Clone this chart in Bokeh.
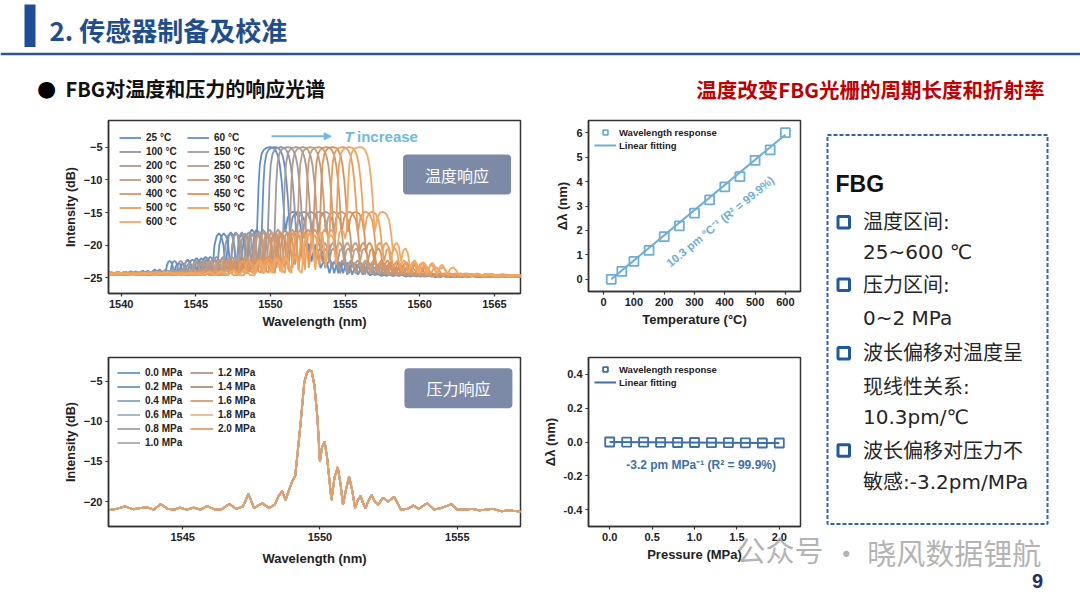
from bokeh.plotting import figure
from bokeh.models import (Range1d, FixedTicker, Legend, LegendItem, Label,
                          BoxAnnotation, Span, Arrow, NormalHead, NumeralTickFormatter)
from bokeh.layouts import row, column
from bokeh.embed import file_html
from bokeh.resources import INLINE

FONT = "Liberation Sans"
CJK = "Noto Sans CJK SC"
BOX_FONT = "DejaVu Sans, Noto Sans CJK SC"
WM_FONT = "Liberation Sans, Noto Sans CJK SC"

# ---------------- data ----------------
temps = [25, 60, 100, 150, 200, 250, 300, 350, 400, 450, 500, 550, 600]
d_temp = [0.00, 0.32, 0.73, 1.18, 1.75, 2.19, 2.71, 3.25, 3.78, 4.20, 4.87, 5.30, 6.00]
fit_t_x = [25, 600]
fit_t_y = [0.00, 5.92]
t_colors = ["#5b8fd0", "#6b8fc0", "#8f96a8", "#a19b9c", "#ac9a90", "#b69a88",
            "#c29c82", "#cb9a76", "#d4956a", "#dc9257", "#e89d5c", "#eea25f", "#f4a862"]

pressures = [0.0, 0.2, 0.4, 0.6, 0.8, 1.0, 1.2, 1.4, 1.6, 1.8, 2.0]
d_press = [0.000, -0.001, -0.001, -0.002, -0.003, -0.003, -0.004, -0.004, -0.005, -0.006, -0.006]
fit_p_x = [0.0, 2.0]
fit_p_y = [0.000, -0.0064]
p_colors = ["#5b9bd5", "#6198cc", "#80a6cf", "#9db2cb", "#a3a3a3", "#b2aaaa",
            "#b49686", "#bb8e70", "#d39e74", "#e9b892", "#dfa06c"]

# FBG reflection spectrum read at 25 degC (offset from peak centre, nm / dB)
t_center = 1550.05
t_off = [-17.0, -16.2, -15.4, -14.6, -13.8, -13.0, -12.2, -11.4, -10.6, -10.2, -9.8, -9.4,
         -9.0, -8.6, -8.2, -7.8, -7.4, -7.1, -7.0, -6.9, -6.8, -6.7, -6.6, -6.5,
         -6.4, -6.3, -6.2, -6.1, -6.0, -5.9, -5.8, -5.7, -5.6, -5.5, -5.4, -5.3,
         -5.2, -5.1, -5.0, -4.9, -4.8, -4.7, -4.6, -4.5, -4.4, -4.3, -4.2, -4.1,
         -3.95, -3.8, -3.65, -3.5, -3.35, -3.2, -3.05, -2.95, -2.85, -2.7, -2.55, -2.45,
         -2.35, -2.25, -2.15, -2.0, -1.85, -1.75, -1.65, -1.55, -1.45, -1.3, -1.15, -1.05,
         -0.95, -0.9, -0.84, -0.76, -0.64, -0.5, -0.33, -0.15, 0.0, 0.15, 0.3, 0.45,
         0.58, 0.7, 0.8, 0.88, 0.93, 0.98, 1.1, 1.3, 1.5, 1.7, 1.9, 2.05,
         2.15, 2.25, 2.4, 2.55, 2.7, 2.85, 3.0, 3.15, 3.3, 3.45, 3.6, 3.75,
         3.9, 4.05, 4.2, 4.35, 4.5, 4.65, 4.8, 4.95, 5.1, 5.3, 5.45, 5.6,
         5.8, 6.0, 6.2, 6.4, 6.6, 7.0, 7.4, 7.8, 8.2, 8.6, 9.0, 9.5,
         10.0, 10.5, 11.0, 11.5, 12.0, 13.0, 14.0, 15.0, 16.0, 17.0]
t_db = [-24.5, -24.2, -24.6, -24.2, -24.6, -24.1, -24.6, -24.2, -24.6, -24.1, -24.6, -24.0,
        -24.6, -23.9, -24.6, -23.7, -24.6, -24.6, -23.2, -22.6, -22.4, -22.6, -23.2, -24.4,
        -23.3, -22.9, -22.8, -22.9, -23.5, -24.3, -23.0, -22.4, -22.2, -22.4, -23.0, -24.2,
        -22.9, -22.2, -22.0, -22.2, -22.9, -24.0, -22.7, -22.0, -21.8, -22.0, -22.8, -24.0,
        -24.2, -20.0, -18.6, -18.2, -18.6, -20.0, -23.8, -21.0, -18.6, -18.0, -18.6, -21.0,
        -23.5, -21.0, -18.9, -18.4, -18.9, -21.0, -23.0, -20.5, -18.2, -17.6, -18.0, -19.0,
        -17.8, -14.5, -10.5, -7.6, -6.0, -5.4, -5.1, -5.0, -5.0, -5.1, -5.5, -6.3,
        -7.8, -10.2, -13.0, -16.0, -18.0, -17.5, -15.8, -15.0, -14.9, -15.2, -16.2, -18.5,
        -21.0, -20.0, -19.6, -20.2, -22.5, -20.8, -20.5, -21.2, -23.5, -22.8, -22.3, -22.8,
        -24.3, -23.0, -22.6, -23.0, -24.3, -23.0, -22.7, -23.2, -24.5, -23.3, -23.0, -23.5,
        -24.5, -23.6, -23.4, -23.9, -24.6, -24.3, -24.7, -24.3, -24.7, -24.4, -24.8, -24.4,
        -24.8, -24.5, -24.9, -24.5, -24.9, -24.6, -24.9, -24.6, -24.9, -24.6]

# FBG spectrum read at 0 MPa (nm / dB)
p_wl = [1542.3, 1542.6, 1542.9, 1543.2, 1543.45, 1543.7, 1543.95, 1544.2, 1544.45, 1544.7,
        1544.9, 1545.15, 1545.4, 1545.65, 1545.9, 1546.15, 1546.4, 1546.7, 1546.95, 1547.2,
        1547.4, 1547.6, 1547.9, 1548.15, 1548.35, 1548.5, 1548.62, 1548.75, 1548.88, 1549.0,
        1549.1, 1549.2, 1549.3, 1549.43, 1549.52, 1549.62, 1549.7, 1549.8, 1549.91, 1550.0,
        1550.08, 1550.17, 1550.26, 1550.42, 1550.53, 1550.65, 1550.75, 1550.84, 1550.95, 1551.06,
        1551.17, 1551.28, 1551.38, 1551.48, 1551.56, 1551.66, 1551.78, 1551.88, 1552.0, 1552.12,
        1552.3, 1552.48, 1552.7, 1552.95, 1553.2, 1553.4, 1553.6, 1553.9, 1554.15, 1554.4,
        1554.8, 1555.0, 1555.3, 1555.55, 1555.8, 1556.05, 1556.3, 1556.6, 1556.9, 1557.3]
p_db = [-21.05, -20.9, -20.6, -20.95, -20.8, -20.7, -21.0, -20.3, -20.9, -21.0,
        -20.75, -21.0, -20.75, -21.0, -20.55, -20.95, -21.0, -20.3, -20.9, -20.6,
        -19.05, -20.8, -20.2, -20.8, -20.4, -19.3, -18.7, -19.8, -18.5, -17.4,
        -16.8, -13.5, -10.1, -5.2, -4.0, -3.6, -3.8, -5.5, -9.6, -15.0,
        -13.2, -12.5, -14.5, -19.8, -17.0, -15.7, -17.8, -20.4, -18.5, -16.9,
        -18.5, -20.8, -19.8, -19.3, -20.1, -20.8, -19.8, -19.2, -20.0, -20.4,
        -19.5, -20.0, -19.4, -21.0, -20.9, -20.5, -20.9, -20.2, -21.0, -20.8,
        -20.3, -21.0, -21.0, -20.9, -21.1, -21.0, -20.9, -21.2, -21.1, -21.25]

wl_ticks_t = [1540, 1545, 1550, 1555, 1560, 1565]
db_ticks_t = [-25, -20, -15, -10, -5]
wl_ticks_p = [1545, 1550, 1555]
db_ticks_p = [-20, -15, -10, -5]
temp_ticks = [0, 100, 200, 300, 400, 500, 600]
dl_ticks_t = [0, 1, 2, 3, 4, 5, 6]
press_ticks = [0.0, 0.5, 1.0, 1.5, 2.0]
dl_ticks_p = [-0.4, -0.2, 0.0, 0.2, 0.4]

box_lines = ["温度区间:", "25~600 ℃", "压力区间:", "0~2 MPa", "波长偏移对温度呈",
             "现线性关系:", "10.3pm/℃", "波长偏移对压力不", "敏感:-3.2pm/MPa"]


# ---------------- helpers ----------------
def Y(py):
    return 598 - py


def base_fig(w, h, xr, yr, lb, rb, tb, bb):
    p = figure(width=w, height=h, x_range=Range1d(*xr), y_range=Range1d(*yr),
               output_backend="svg", toolbar_location=None,
               min_border_left=lb, min_border_right=rb, min_border_top=tb, min_border_bottom=bb)
    p.grid.visible = False
    p.outline_line_color = "#333333"
    p.outline_line_width = 1.5
    p.background_fill_color = "white"
    p.border_fill_color = "white"
    for ax in [p.xaxis[0], p.yaxis[0]]:
        ax.axis_line_color = "#333333"
        ax.axis_line_width = 1.5
        ax.major_tick_line_color = "#333333"
        ax.major_tick_line_width = 1.2
        ax.major_tick_out = 3
        ax.major_tick_in = 0
        ax.minor_tick_line_color = None
        ax.major_label_text_font = FONT
        ax.major_label_text_font_style = "bold"
        ax.major_label_text_font_size = "11px"
        ax.major_label_text_color = "#222222"
        ax.axis_label_text_font = FONT
        ax.axis_label_text_font_style = "bold"
        ax.axis_label_text_font_size = "13px"
        ax.axis_label_text_color = "#222222"
        ax.major_label_standoff = 3
        ax.axis_label_standoff = 3
    return p


def make_legend(items, ncols, fs, gw, gh, spacing, margin, padding, standoff=5, lw=20):
    lg = Legend(items=items, location="top_left", ncols=ncols, orientation="vertical")
    lg.label_text_font = FONT
    lg.label_text_font_style = "bold"
    lg.label_text_font_size = fs
    lg.label_text_color = "#222222"
    lg.glyph_width = gw
    lg.glyph_height = gh
    lg.label_height = gh
    lg.label_width = lw
    lg.spacing = spacing
    lg.margin = margin
    lg.padding = padding
    lg.label_standoff = standoff
    lg.border_line_color = None
    lg.background_fill_alpha = 0
    return lg


def blank_fig(w, h, xr, yr):
    p = figure(width=w, height=h, x_range=Range1d(*xr), y_range=Range1d(*yr),
               output_backend="svg", toolbar_location=None, min_border=0,
               min_border_left=0, min_border_right=0, min_border_top=0, min_border_bottom=0,
               x_axis_type=None, y_axis_type=None)
    p.grid.visible = False
    p.outline_line_color = None
    p.background_fill_color = "white"
    p.border_fill_color = "white"
    return p


# ---------------- header ----------------
hd = blank_fig(1080, 108, (0, 1080), (Y(108), Y(0)))
hd.add_layout(BoxAnnotation(left=24, right=35, bottom=Y(46.5), top=Y(4), fill_color="#1f4e96",
                            fill_alpha=1, line_color=None))
hd.add_layout(Span(location=Y(53.5), dimension="width", line_color="#2b5797", line_width=2.5))
hd.add_layout(Label(x=49, y=Y(28.5), text="2. 传感器制备及校准", text_font=CJK,
                    text_font_style="bold", text_font_size="26px", text_color="#1f4e8f",
                    text_baseline="middle"))
hd.add_layout(Label(x=46, y=Y(88), text="●", text_font="DejaVu Sans", text_font_size="22px",
                    text_color="black", text_align="center", text_baseline="middle"))
hd.add_layout(Label(x=65, y=Y(88), text="FBG对温度和压力的响应光谱", text_font=CJK,
                    text_font_style="bold", text_font_size="20px", text_color="#111111",
                    text_baseline="middle"))
hd.add_layout(Label(x=1044, y=Y(88), text="温度改变FBG光栅的周期长度和折射率", text_font=CJK,
                    text_font_style="bold", text_font_size="20.5px", text_color="#c00000",
                    text_align="right", text_baseline="middle"))

# ---------------- top-left: temperature spectra ----------------
tl = base_fig(530, 227, (1539.15, 1566.75), (-27.4, -0.9), 108, 9, 12, 42)
tl.xaxis.ticker = FixedTicker(ticks=wl_ticks_t)
tl.yaxis.ticker = FixedTicker(ticks=db_ticks_t)
tl.xaxis.axis_label = "Wavelength (nm)"
tl.yaxis.axis_label = "Intensity (dB)"
tl.yaxis.axis_label_text_font_size = "12.5px"
t_rend = []
for T, d, c in zip(temps, d_temp, t_colors):
    xs = [t_center + d + o for o in t_off]
    t_rend.append(tl.line(xs, t_db, line_color=c, line_width=1.8))
order_t = [0, 2, 4, 6, 8, 10, 12, 1, 3, 5, 7, 9, 11]
items_t = [LegendItem(label=f"{temps[i]} °C", renderers=[t_rend[i]]) for i in order_t]
tl.add_layout(make_legend(items_t, 2, "10px", 22, 13, 1, 11, 6, 5, 40))
arrow_c = "#72b8e2"
tl.add_layout(Arrow(end=NormalHead(size=7, fill_color=arrow_c, line_color=arrow_c),
                    x_start=1550.07, y_start=-3.32, x_end=1554.07, y_end=-3.32,
                    line_color=arrow_c, line_width=2))
tl.add_layout(Label(x=1554.96, y=-3.32, text="T", text_font=FONT, text_font_style="bold italic",
                    text_font_size="15px", text_color=arrow_c, text_baseline="middle"))
tl.add_layout(Label(x=1555.8, y=-3.32, text="increase", text_font=FONT, text_font_style="bold",
                    text_font_size="15px", text_color=arrow_c, text_baseline="middle"))
tl.add_layout(Label(x=1562.5, y=-9.18, text="温度响应", text_font=CJK, text_font_size="16px",
                    text_color="white", text_align="center", text_baseline="middle",
                    background_fill_color="#7d8aa7", padding=dict(x=22, y=8), border_radius=4))

# ---------------- bottom-left: pressure spectra ----------------
bl = base_fig(530, 263, (1542.3, 1557.3), (-23.1, -2.05), 103, 10, 22, 72)
bl.xaxis.ticker = FixedTicker(ticks=wl_ticks_p)
bl.yaxis.ticker = FixedTicker(ticks=db_ticks_p)
bl.xaxis.axis_label = "Wavelength (nm)"
bl.yaxis.axis_label = "Intensity (dB)"
bl.yaxis.axis_label_text_font_size = "12.5px"
bl.xaxis.axis_label_standoff = 7
p_rend = []
for P, d, c in zip(pressures, d_press, p_colors):
    xs = [w + d for w in p_wl]
    p_rend.append(bl.line(xs, p_db, line_color=c, line_width=1.8))
items_p = [LegendItem(label=f"{pressures[i]:.1f} MPa", renderers=[p_rend[i]]) for i in range(len(pressures))]
bl.add_layout(make_legend(items_p, 2, "10px", 23, 13, 1, 9, 6, 5, 44))
bl.add_layout(Label(x=1555.04, y=-5.87, text="压力响应", text_font=CJK, text_font_size="16px",
                    text_color="white", text_align="center", text_baseline="middle",
                    background_fill_color="#7d8aa7", padding=dict(x=22, y=8), border_radius=4))

# ---------------- top-right: shift vs temperature ----------------
c_t = "#6caed6"
tr = base_fig(295, 227, (-50, 650), (-0.5, 6.5), 58, 25, 12, 44)
tr.xaxis.ticker = FixedTicker(ticks=temp_ticks)
tr.yaxis.ticker = FixedTicker(ticks=dl_ticks_t)
tr.xaxis.axis_label = "Temperature (°C)"
tr.yaxis.axis_label = "Δλ (nm)"
ln_t = tr.line(fit_t_x, fit_t_y, line_color=c_t, line_width=2)
sc_t = tr.scatter(temps, d_temp, marker="square", size=9, fill_color=None,
                  line_color=c_t, line_width=1.8)
tr.add_layout(make_legend([LegendItem(label="Wavelength response", renderers=[sc_t]),
                           LegendItem(label="Linear fitting", renderers=[ln_t])],
                          1, "9.5px", 22, 12, 1, 6, 4, 3))
tr.add_layout(Label(x=385, y=2.37, text="10.3 pm °C⁻¹ (R² = 99.9%)", angle=0.69,
                    text_font=FONT, text_font_style="bold", text_font_size="11.5px",
                    text_color=c_t, text_align="center", text_baseline="middle"))

# ---------------- bottom-right: shift vs pressure ----------------
c_p = "#3d6fa8"
br = base_fig(295, 263, (-0.25, 2.25), (-0.5, 0.5), 57, 25, 22, 72)
br.xaxis.ticker = FixedTicker(ticks=press_ticks)
br.yaxis.ticker = FixedTicker(ticks=dl_ticks_p)
br.xaxis.formatter = NumeralTickFormatter(format="0.0")
br.yaxis.formatter = NumeralTickFormatter(format="0.0")
br.xaxis.axis_label = "Pressure (MPa)"
br.yaxis.axis_label = "Δλ (nm)"
br.xaxis.axis_label_standoff = 3
ln_p = br.line(fit_p_x, fit_p_y, line_color=c_p, line_width=2)
sc_p = br.scatter(pressures, d_press, marker="square", size=9, fill_color=None,
                  line_color=c_p, line_width=1.8)
br.add_layout(make_legend([LegendItem(label="Wavelength response", renderers=[sc_p]),
                           LegendItem(label="Linear fitting", renderers=[ln_p])],
                          1, "9.5px", 22, 12, 1, 6, 4, 3))
br.add_layout(Label(x=1.078, y=-0.137, text="-3.2 pm MPa⁻¹ (R² = 99.9%)",
                    text_font=FONT, text_font_style="bold", text_font_size="12px",
                    text_color=c_p, text_align="center", text_baseline="middle"))
# watermark (first part), placed in the lower border panel so that it is not clipped
br.add_layout(Label(x=2.52, y=-0.65, text="公众号", text_font=WM_FONT, text_font_size="29px",
                    text_color="#9a9a9a", text_alpha=0.75, text_align="right",
                    text_baseline="middle"), "below")

# ---------------- right info box ----------------
rf = blank_fig(255, 490, (825, 1080), (Y(598), Y(108)))
rf.add_layout(BoxAnnotation(left=827, right=1047, bottom=Y(523.5), top=Y(134.5),
                            fill_alpha=0, line_color="#2e64a8", line_alpha=1, line_width=2,
                            line_dash="4 2"))
rf.add_layout(Label(x=835, y=Y(183), text="FBG", text_font=FONT, text_font_style="bold",
                    text_font_size="23px", text_color="#111111", text_baseline="middle"))
line_y = [221.7, 251.7, 284.3, 317.7, 352.7, 386.7, 416.7, 450.0, 481.7]
for txt, py in zip(box_lines, line_y):
    rf.add_layout(Label(x=862.5, y=Y(py), text=txt, text_font=BOX_FONT, text_font_size="20px",
                        text_color="#262626", text_baseline="middle"))
for py in [221.7, 284.3, 352.7, 450.0]:
    rf.add_layout(BoxAnnotation(left=837.5, right=849.0, bottom=Y(py + 5.75), top=Y(py - 5.75),
                                fill_alpha=0, line_color="#1f5aa0", line_alpha=1, line_width=3))
rf.add_layout(Label(x=845.7, y=Y(551.7), text="·", text_font=CJK, text_font_size="29px",
                    text_color="#9a9a9a", text_alpha=0.75, text_align="center",
                    text_baseline="middle"))
rf.add_layout(Label(x=866.7, y=Y(551.7), text="晓风数据锂航", text_font=CJK, text_font_size="29px",
                    text_color="#9a9a9a", text_alpha=0.75, text_baseline="middle"))
rf.add_layout(Label(x=1037, y=Y(580), text="9", text_font=FONT, text_font_style="bold",
                    text_font_size="20px", text_color="#1f2f6b", text_align="center",
                    text_baseline="middle"))

layout = column(hd, row(column(tl, bl), column(tr, br), rf))

open("out.html", "w").write(file_html(layout, INLINE))
